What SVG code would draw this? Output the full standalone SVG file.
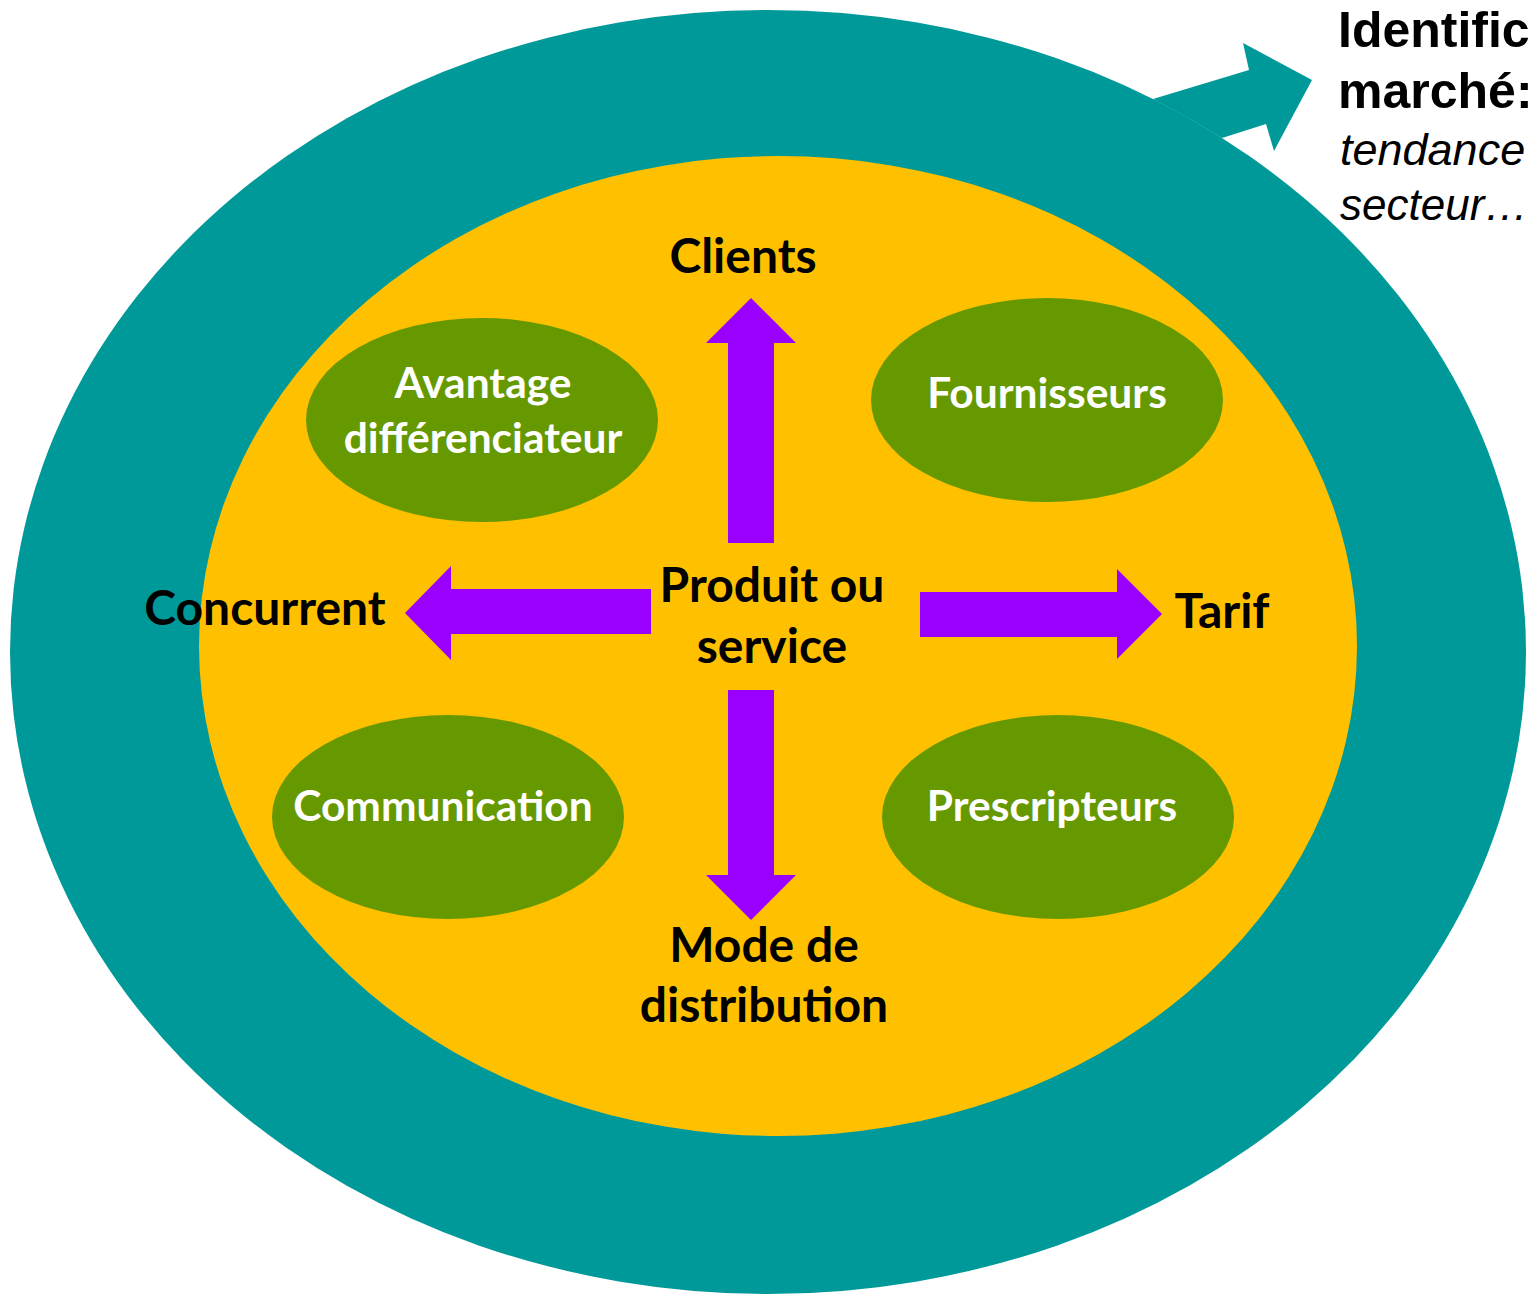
<svg xmlns="http://www.w3.org/2000/svg" width="1528" height="1295" viewBox="0 0 1528 1295">
<style>
.lbl{font-family:Lato,"Open Sans","Liberation Sans",sans-serif;font-weight:bold;fill:#000;text-anchor:middle;font-size:48px}
.wht{font-family:Lato,"Open Sans","Liberation Sans",sans-serif;font-weight:bold;fill:#fff;text-anchor:middle;font-size:42.5px}
.grn{fill:#669900}
.arr{fill:#9900FF}
.hd{font-family:"Liberation Sans",Arial,sans-serif;fill:#000}
</style>
<rect width="1528" height="1295" fill="#fff"/>
<g id="outer">
<ellipse cx="768" cy="652" rx="758" ry="642" fill="#009999"/>
<polygon points="1153,99 1249,70 1243,43 1312,80 1274,151 1266,124 1222,138 1190,119" fill="#009999"/>
</g>
<g id="inner">
<ellipse cx="778" cy="646" rx="579" ry="490" fill="#FFC000"/>
</g>
<g id="heading">
<text class="hd" x="1338" y="47" font-size="50" font-weight="bold">Identific</text>
<text class="hd" x="1338" y="108" font-size="50" font-weight="bold">marché:</text>
<text class="hd" x="1340" y="165" font-size="45" font-style="italic">tendance</text>
<text class="hd" x="1340" y="220" font-size="44" font-style="italic">secteur…</text>
</g>
<g id="connectors">
<polygon class="arr" points="728,543 728,343 706,343 751,298 796,343 774,343 774,543"/>
<polygon class="arr" points="728,690 728,875 706,875 751,920 796,875 774,875 774,690"/>
<polygon class="arr" points="651,589 451,589 451,566 405,613 451,660 451,634 651,634"/>
<polygon class="arr" points="920,592 1117,592 1117,569 1162,614 1117,659 1117,637 920,637"/>
</g>
<g id="center"><text class="lbl" x="772" y="602">Produit ou</text><text class="lbl" x="772" y="663">service</text></g>
<g id="clients"><text class="lbl" x="743" y="273">Clients</text></g>
<g id="concurrent"><text class="lbl" x="265" y="625">Concurrent</text></g>
<g id="tarif"><text class="lbl" x="1222" y="628">Tarif</text></g>
<g id="mode"><text class="lbl" x="764" y="962">Mode de</text><text class="lbl" x="764" y="1022">distribution</text></g>
<g id="avantage"><ellipse class="grn" cx="482" cy="420" rx="176" ry="102"/><text class="wht" x="483" y="398">Avantage</text><text class="wht" x="483" y="453">différenciateur</text></g>
<g id="fournisseurs"><ellipse class="grn" cx="1047" cy="400" rx="176" ry="102"/><text class="wht" x="1047" y="408">Fournisseurs</text></g>
<g id="communication"><ellipse class="grn" cx="448" cy="817" rx="176" ry="102"/><text class="wht" x="443" y="821">Communication</text></g>
<g id="prescripteurs"><ellipse class="grn" cx="1058" cy="817" rx="176" ry="102"/><text class="wht" x="1052" y="821">Prescripteurs</text></g>
</svg>
